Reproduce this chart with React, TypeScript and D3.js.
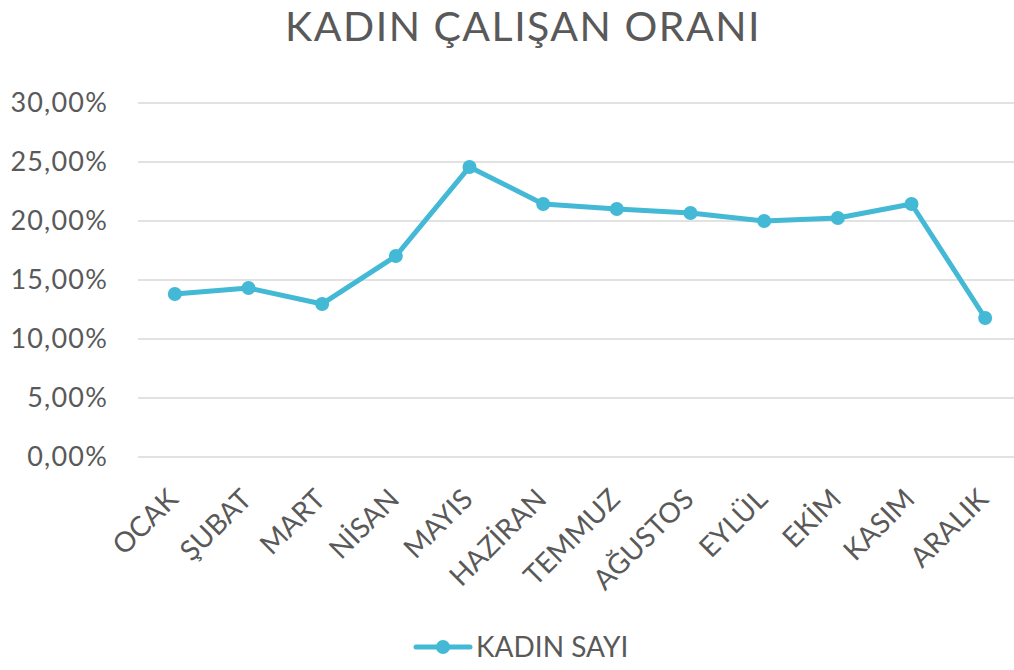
import React from "react";
import * as d3 from "d3";

const months = ["OCAK", "ŞUBAT", "MART", "NİSAN", "MAYIS", "HAZİRAN", "TEMMUZ", "AĞUSTOS", "EYLÜL", "EKİM", "KASIM", "ARALIK"];
const values = [0.1381, 0.1432, 0.1297, 0.1703, 0.2458, 0.2144, 0.2102, 0.2068, 0.2, 0.2025, 0.2144, 0.1178];
const yTicks = [0, 0.05, 0.1, 0.15, 0.2, 0.25, 0.3];
const title = "KADIN ÇALIŞAN ORANI";
const seriesName = "KADIN SAYI";

const W = 1014, H = 670;
const FONT = "Lato, 'Open Sans', sans-serif";
const TEXT = "#595959";
const LINE = "#43B9D5";

export default function App() {
  const x = d3.scaleBand<string>().domain(months).range([138, 1022]);
  const y = d3.scaleLinear().domain([0, 0.3]).range([457, 103]);
  const fmt = (v: number) => (v * 100).toFixed(2).replace(".", ",") + "%";
  const cx = (m: string) => (x(m) as number) + x.bandwidth() / 2;
  const line = d3.line<number>().x((_, i) => cx(months[i])).y((d) => y(d));
  return (
    <svg width={W} height={H} style={{ position: "absolute", left: 0, top: 0 }} fontFamily={FONT}>
      <rect width={W} height={H} fill="#fff" />
      <text x={523} y={41} textAnchor="middle" fontSize={41} letterSpacing={1.5} fill={TEXT}>{title}</text>
      {yTicks.map((t) => (
        <g key={t}>
          <line x1={138} x2={1022} y1={y(t)} y2={y(t)} stroke="#d9d9d9" strokeWidth={1.5} />
          <text x={108} y={y(t)} dy="0.35em" textAnchor="end" fontSize={27} letterSpacing={1.2} fill={TEXT}>{fmt(t)}</text>
        </g>
      ))}
      {months.map((m) => (
        <text key={m} transform={`translate(${cx(m) - 2},${494}) rotate(-45)`} textAnchor="end" dy="0.35em" fontSize={28} fill={TEXT}>{m}</text>
      ))}
      <path d={line(values) || ""} fill="none" stroke={LINE} strokeWidth={5} strokeLinejoin="round" />
      {values.map((v, i) => (
        <circle key={i} cx={cx(months[i])} cy={y(v)} r={7} fill={LINE} />
      ))}
      <line x1={416} x2={470} y1={647} y2={647} stroke={LINE} strokeWidth={5} strokeLinecap="round" />
      <circle cx={443} cy={647} r={7} fill={LINE} />
      <text x={476} y={657} fontSize={28} fill={TEXT}>{seriesName}</text>
    </svg>
  );
}
